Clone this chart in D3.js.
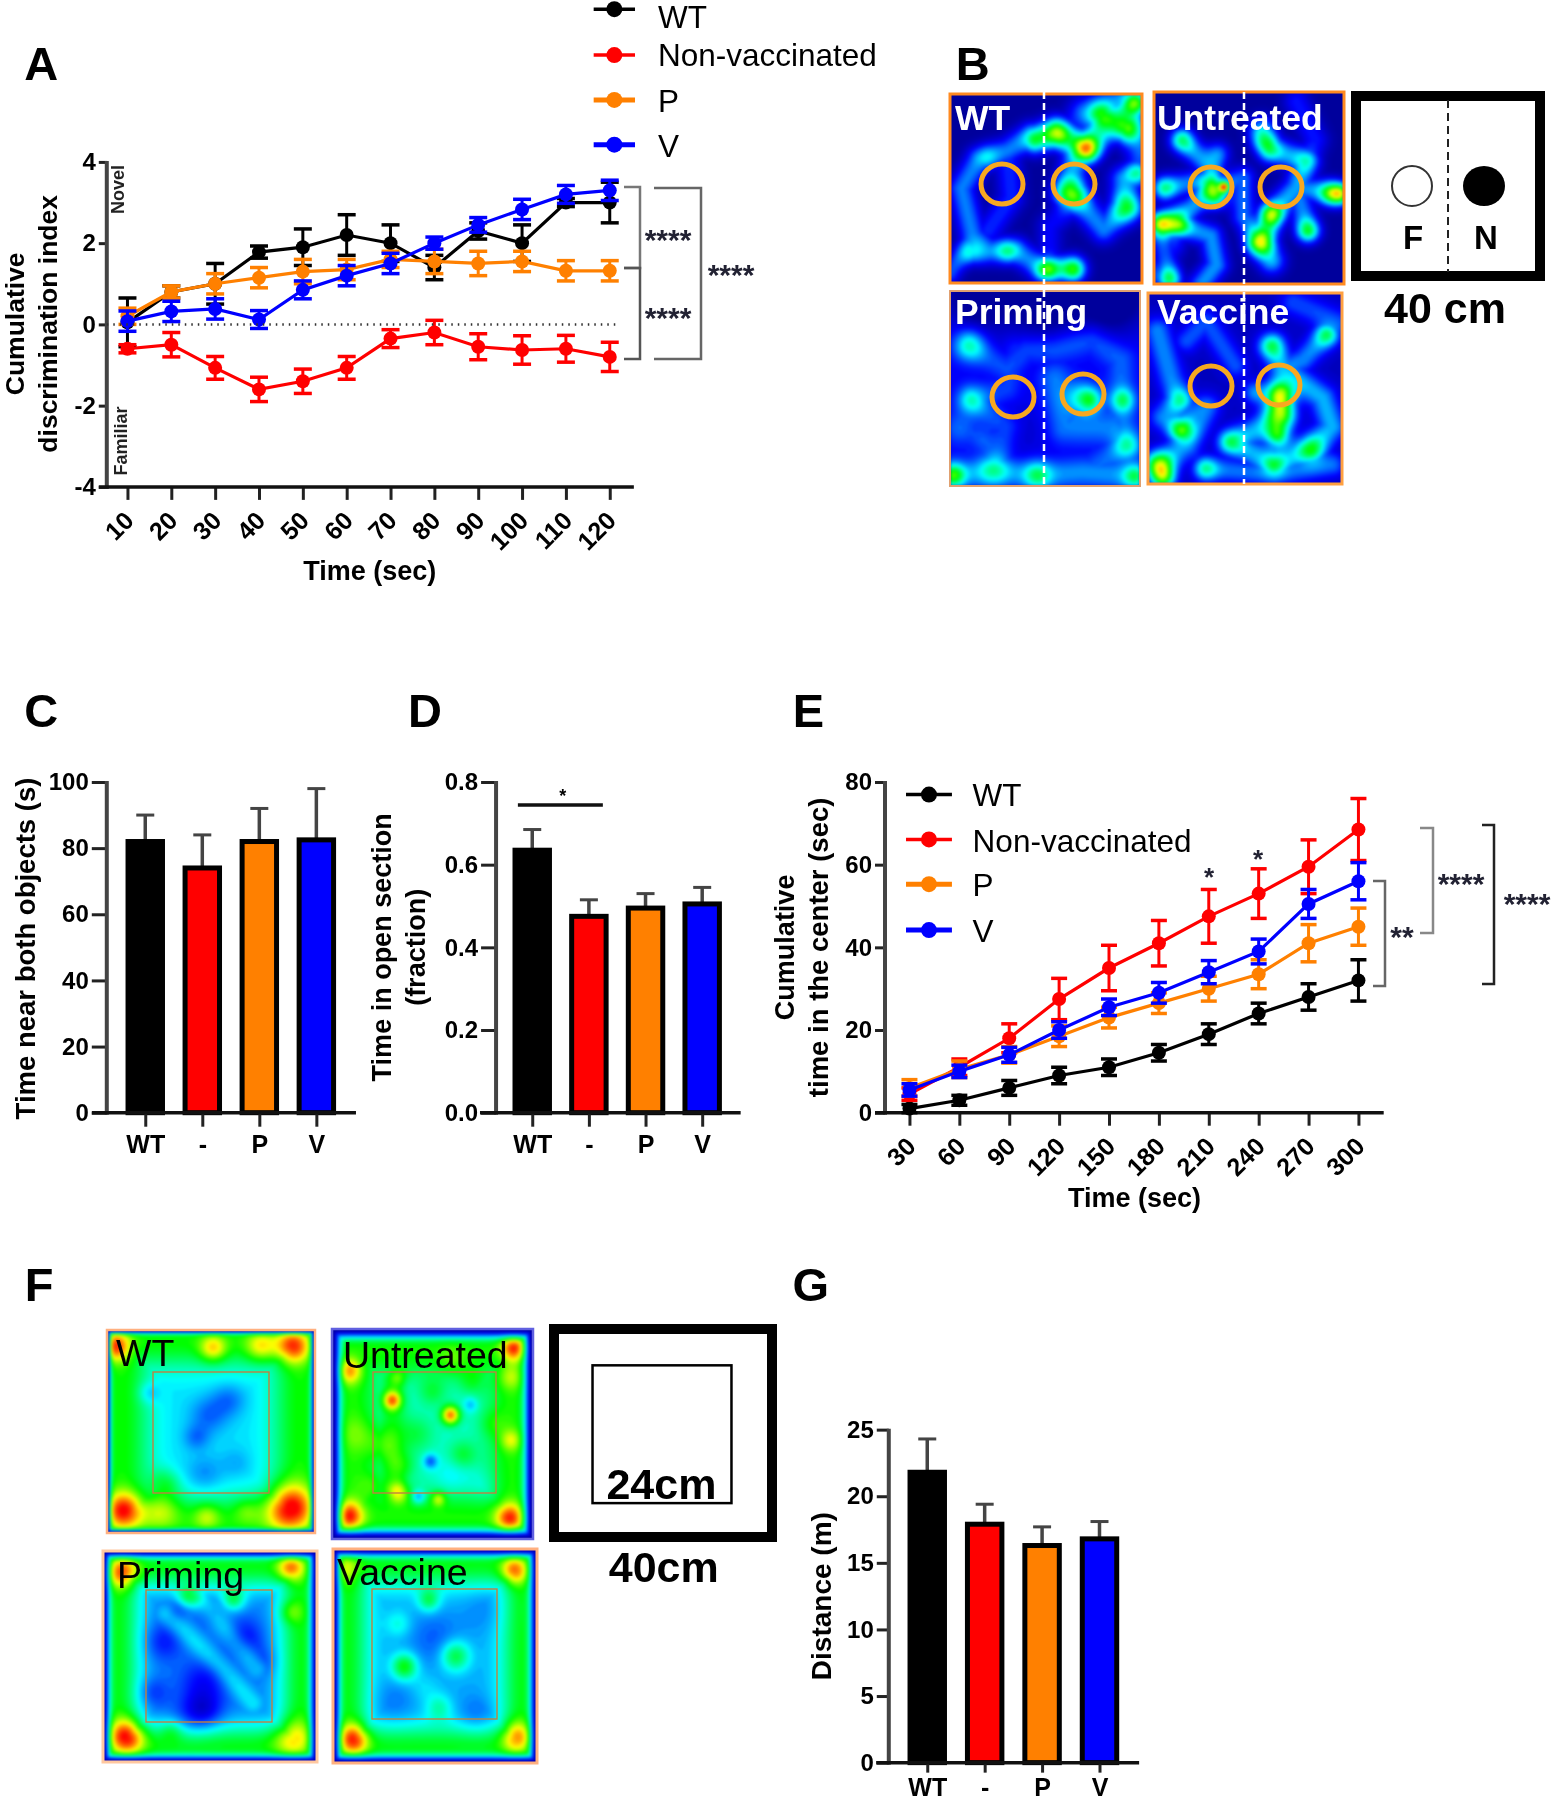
<!DOCTYPE html>
<html><head><meta charset="utf-8">
<style>html,body{margin:0;padding:0;background:#fff}svg{display:block;filter:blur(.7px)}text{font-family:"Liberation Sans",Arial,sans-serif}.hm{filter:blur(1.6px)}</style>
<script src="https://cdn.jsdelivr.net/npm/d3@7"></script></head><body>
<script>
// ---------- data ----------
const groups = ["WT","Non-vaccinated","P","V"];
const groupColors = ["#000000","#ff0000","#ff8000","#0000ff"];
const groupLineW = [3.5,3.5,5,5];
const barLabels = ["WT","-","P","V"];

const timeA = [10,20,30,40,50,60,70,80,90,100,110,120];
const aWT  = [0.05,0.8,1.0,1.78,1.9,2.2,2.0,1.4,2.3,2.0,3.0,3.0];
const aWTe = [0.6,0.15,0.5,0.15,0.45,0.5,0.45,0.3,0.2,0.45,0.1,0.5];
const aNon = [-0.6,-0.5,-1.07,-1.6,-1.4,-1.07,-0.35,-0.2,-0.55,-0.63,-0.6,-0.8];
const aNone= [0.1,0.3,0.28,0.3,0.3,0.28,0.22,0.3,0.32,0.35,0.33,0.36];
const aP   = [0.2,0.8,1.0,1.15,1.3,1.35,1.6,1.55,1.5,1.55,1.32,1.32];
const aPe  = [0.2,0.15,0.25,0.25,0.3,0.25,0.2,0.3,0.3,0.25,0.25,0.25];
const aV   = [0.08,0.32,0.38,0.12,0.85,1.2,1.5,2.0,2.45,2.83,3.2,3.3];
const aVe  = [0.25,0.25,0.25,0.22,0.22,0.25,0.25,0.15,0.18,0.25,0.22,0.25];

const timeE = [30,60,90,120,150,180,210,240,270,300];
const eWT  = [1,3,6,9,11,14.5,19,24,28,32];
const eWTe = [1,1.2,1.8,2,2,2,2.5,2.5,3.2,5];
const eNon = [4.5,11,18,27.5,35,41,47.5,53,59.5,68.5];
const eNone= [1.5,2,3.5,5,5.5,5.5,6.5,6,6.5,7.5];
const eP   = [6,10.5,14,18.5,23,26.5,30,33.5,41,45];
const ePe  = [2,2,2,2.5,2.5,2.5,3,3.5,4.5,4.5];
const eV   = [5.5,10,14,20,25.5,29,34,39,50.5,56];
const eVe  = [1.5,1.5,1.8,2,2,2.5,2.8,3,3.5,4.5];

const cVal = [82,74,82,82.5], cTop = [90,84,92,98];
const dVal = [0.635,0.475,0.495,0.505], dTop = [0.685,0.515,0.53,0.545];
const gVal = [21.8,17.9,16.3,16.8], gTop = [24.3,19.4,17.7,18.1];

// heat maps: spots [u,v,amp,sigma], trails [amp,sigma,[[u,v]...]]
const bWTspots = [[.71,.29,.62,.035],[.56,.21,.42,.035],[.79,.115,.4,.035],[.92,.185,.42,.035],[.96,.05,.35,.03],[.44,.24,.22,.03],[.64,.525,.42,.04],[.92,.6,.3,.04],[.97,.42,.2,.03],[.51,.93,.4,.03],[.64,.93,.35,.03],[.115,.845,.24,.03],[.30,.83,.22,.03],[.19,.33,.12,.03]];
const bWTtrails = [[.24,.05,[[.42,.22],[.3,.3],[.15,.35],[.06,.5],[.12,.75],[.2,.83],[.35,.83],[.47,.92],[.64,.92]]],[.3,.055,[[.44,.24],[.55,.2],[.7,.28],[.85,.15],[.96,.05]]],[.24,.05,[[.55,.2],[.66,.3],[.6,.52],[.7,.6],[.8,.72],[.92,.6],[.9,.45],[.97,.42]]],[.2,.04,[[.12,.75],[0,.95]]],[.16,.05,[[.3,.3],[.32,.55],[.2,.72]]],[.22,.06,[[.7,.1],[.9,.02],[1,.3]]],[.12,.05,[[.51,.93],[.52,.7],[.6,.62]]]];
const bUspots = [[.15,.255,.22,.03],[.34,.32,.22,.03],[.3,.49,.28,.03],[.37,.495,.65,.012],[.33,.55,.35,.03],[.04,.69,.5,.03],[.13,.69,.38,.03],[.06,.5,.22,.03],[.62,.64,.45,.03],[.56,.78,.5,.035],[.81,.72,.3,.03],[.93,.53,.35,.03],[.98,.53,.35,.025],[.57,.25,.18,.03],[.61,.3,.18,.03],[.8,.36,.14,.03],[.08,.97,.3,.03]];
const bUtrails = [[.26,.045,[[.15,.25],[.3,.4],[.3,.5],[.2,.6],[.04,.69],[.13,.69],[.3,.75],[.33,.9],[.25,1]]],[.24,.045,[[.06,.5],[.3,.45]]],[.28,.05,[[.57,.2],[.62,.3],[.8,.36],[.75,.5],[.62,.64],[.56,.78],[.62,.88]]],[.24,.045,[[.75,.5],[.81,.72]]],[.26,.045,[[.75,.5],[.98,.53]]],[.22,.045,[[.57,.78],[.47,.65],[.47,.45],[.3,.5]]],[.2,.045,[[.04,.75],[.08,.97]]],[.14,.05,[[.75,.05],[.85,.25],[.8,.36]]],[.14,.05,[[.1,.8],[.0,.95]]]];
const bPspots = [[.105,.28,.22,.04],[.115,.56,.2,.035],[.69,.545,.2,.04],[.74,.56,.28,.03],[.91,.56,.28,.03],[.93,.79,.22,.035],[.02,.945,.35,.03],[.23,.92,.2,.04],[.46,.945,.25,.035],[.97,.95,.25,.03],[.05,.705,.1,.04],[.17,.76,.08,.03],[.5,.03,-.2,.09],[.15,.02,-.2,.08],[.85,.03,-.2,.09],[.37,.72,-.05,.08],[.3,.3,-.03,.1]];
const bPtrails = [[.1,.05,[[.55,.3],[.75,.25],[.9,.35],[.9,.56],[.93,.79],[.7,.95]]],[.1,.05,[[.1,.28],[.3,.4],[.4,.3],[.55,.3]]],[.14,.05,[[.02,.945],[.23,.92],[.46,.945],[.7,.93],[.97,.95]]],[.1,.05,[[.115,.56],[.3,.7],[.23,.92]]],[.12,.06,[[.55,.45],[.6,.7],[.85,.7]]],[.08,.05,[[.35,.3],[.3,.5],[.115,.56]]]];
const bVspots = [[.68,.53,.62,.035],[.68,.64,.35,.04],[.67,.75,.4,.03],[.175,.72,.38,.03],[.06,.9,.42,.035],[.08,.97,.42,.03],[.92,.22,.25,.03],[.64,.28,.22,.03],[.84,.82,.28,.035],[.165,.56,.2,.03],[.43,.78,.22,.03],[.3,.92,.22,.03],[.65,.9,.24,.03],[.55,.52,.2,.03]];
const bVtrails = [[.2,.05,[[.05,.2],[.12,.45],[.165,.56],[.08,.65],[.175,.72],[.3,.6],[.2,.8],[.06,.9]]],[.24,.05,[[.64,.28],[.7,.4],[.9,.55],[.95,.7],[.84,.82],[.65,.9],[.43,.78],[.6,.7],[.68,.64]]],[.2,.045,[[.92,.22],[.8,.35],[.7,.4]]],[.18,.045,[[.3,.92],[.65,.95],[.95,.9]]],[.15,.045,[[.2,.25],[.3,.15],[.45,.38]]],[.14,.05,[[.75,.05],[.98,.15]]]];

const fWTspots = [[.08,.89,.46,.05],[.88,.877,.5,.062],[.04,.08,.42,.04],[.895,.08,.42,.045],[.74,.08,.22,.04],[.51,.09,.26,.035],[.48,.92,.16,.035],[.67,.89,.1,.035],[.26,.885,.18,.05],[.28,.75,.14,.04],[.585,.345,-.1,.045],[.49,.42,-.11,.05],[.43,.53,-.1,.035],[.47,.71,-.08,.05],[.62,.655,-.05,.04],[.2,.31,-.1,.03]];
const fWTtrails = [[.23,.1,[[.07,.05],[.93,.05],[.93,.95],[.07,.95],[.07,.05]]]];
const fUspots = [[.085,.89,.44,.04],[.885,.9,.42,.04],[.905,.09,.42,.035],[.085,.2,.3,.035],[.3,.34,.42,.025],[.59,.41,.5,.025],[.33,.78,.28,.03],[.53,.81,.22,.02],[.89,.53,.18,.03],[.33,.23,.14,.025],[.89,.23,.14,.035],[.49,.63,-.2,.02],[.43,.8,-.2,.02],[.69,.36,-.12,.02],[.6,.7,-.06,.05],[.5,.3,.1,.04],[.7,.25,.1,.04],[.42,.5,.1,.05],[.65,.6,.12,.04],[.25,.55,.12,.05],[.8,.45,.08,.04],[.6,.15,.08,.04],[.35,.65,.1,.04],[.2,.75,.1,.04],[.12,.5,.08,.05],[.75,.75,-.04,.05]];
const fUtrails = [[.17,.09,[[.1,.1],[.9,.1],[.9,.9],[.1,.9],[.1,.1]]],[.12,.05,[[.3,.25],[.3,.75]]]];
const fPspots = [[.11,.88,.5,.045],[.89,.89,.26,.05],[.88,.08,.36,.035],[.09,.1,.4,.04],[.40,.22,.22,.03],[.61,.23,.22,.03],[.88,.29,.14,.03],[.28,.43,-.1,.05],[.66,.41,-.11,.05],[.47,.62,-.11,.06],[.47,.76,-.14,.05],[.23,.67,-.09,.04],[.35,.28,-.08,.03],[.5,.3,-.05,.04],[.75,.52,-.06,.04],[.32,.85,.1,.03],[.4,.8,-.06,.06]];
const fPtrails = [[.3,.08,[[.07,.07],[.93,.07],[.93,.93],[.07,.93],[.07,.07]]],[.1,.035,[[.3,.3],[.55,.55],[.7,.72]]],[.1,.035,[[.45,.22],[.72,.55]]]];
const fVspots = [[.10,.89,.46,.04],[.9,.88,.34,.04],[.89,.1,.38,.035],[.06,.09,.2,.04],[.47,.24,.2,.03],[.35,.55,.28,.035],[.60,.50,.24,.04],[.52,.74,.13,.035],[.32,.35,.1,.035],[.5,.42,-.07,.07],[.3,.72,-.05,.06],[.7,.78,-.07,.05],[.75,.28,-.04,.06],[.45,.65,.05,.04]];
const fVtrails = [[.26,.08,[[.07,.07],[.93,.07],[.93,.93],[.07,.93],[.07,.07]]]];

// ---------- helpers ----------
const S = v => v * 1.1483;                // layout guide: reference proportions
const svg = d3.select("body").append("svg").attr("width",1556).attr("height",1800).attr("viewBox","0 0 1556 1800");
const FW = "bold";
const txt = (x,y,s,size,opts={}) => {
  const t = svg.append("text").attr("x",x).attr("y",y).text(s).attr("font-size",size)
    .attr("font-weight",opts.w||FW).attr("fill",opts.c||"#000").attr("text-anchor",opts.a||"middle")
    .attr("dominant-baseline",opts.b||"central");
  if(opts.r!==undefined) t.attr("transform",`rotate(${opts.r} ${x} ${y})`);
  return t;
};
function styleAxis(g,sw,lab){
  g.select(".domain").remove();
  g.selectAll(".tick line").attr("stroke","#222").attr("stroke-width",sw);
  g.selectAll(".tick text").attr("font-size",lab).attr("font-weight",FW).attr("fill","#000")
   .attr("font-family",'"Liberation Sans",Arial,sans-serif');
}
function yAxis(y,x0,ticks,fmt,tl){
  const g = svg.append("g").attr("transform",`translate(${x0},0)`)
    .call(d3.axisLeft(y).tickValues(ticks).tickFormat(fmt).tickSize(tl).tickPadding(3));
  styleAxis(g,3,24);
  svg.append("line").attr("x1",x0).attr("x2",x0).attr("y1",y.range()[1]-1).attr("y2",y.range()[0]+2).attr("stroke","#444").attr("stroke-width",4);
}
function xLine(xa,xb,y){svg.append("line").attr("x1",xa).attr("x2",xb).attr("y1",y).attr("y2",y).attr("stroke","#111").attr("stroke-width",3.5);}
function bars(vals,tops,y,c1,c2,yAxisX,xa,xb,ticks,fmt,tl,xtl,xpad){
  const x = d3.scalePoint().domain(barLabels).range([S(c1),S(c2)]);
  const bw = S(30);
  yAxis(y,yAxisX,ticks,fmt,tl);
  const g0 = svg.append("g");
  barLabels.forEach((c,i)=>{
    g0.append("line").attr("x1",x(c)).attr("x2",x(c)).attr("y1",y(vals[i])).attr("y2",y(tops[i])).attr("stroke","#444").attr("stroke-width",3.5);
    g0.append("line").attr("x1",x(c)-9).attr("x2",x(c)+9).attr("y1",y(tops[i])).attr("y2",y(tops[i])).attr("stroke","#444").attr("stroke-width",3);
    g0.append("rect").attr("x",x(c)-bw/2).attr("width",bw).attr("y",y(vals[i])).attr("height",y(0)-y(vals[i]))
      .attr("fill",groupColors[i]).attr("stroke","#000").attr("stroke-width",5);
  });
  const ax = svg.append("g").attr("transform",`translate(0,${y(0)})`)
    .call(d3.axisBottom(x).tickSize(xtl).tickPadding(xpad));
  styleAxis(ax,3,25);
  xLine(xa,xb,y(0));
}
function lineChart(xs,series,errs,y,x0,x1,ax,axEnd,yTicks,tl,capW){
  const x = d3.scalePoint().domain(xs).range([x0,x1]);
  const axG = svg.append("g").attr("transform",`translate(0,${y(y.domain()[0])})`)
    .call(d3.axisBottom(x).tickSize(13).tickFormat(String));
  styleAxis(axG,3,25);
  axG.selectAll(".tick text").attr("text-anchor","end").attr("dy",0).attr("dx",0)
    .attr("transform","translate(-4,24) rotate(-45)");
  yAxis(y,ax,yTicks,String,tl);
  xLine(ax-tl,axEnd,y(y.domain()[0]));
  const line = d3.line().x((d,i)=>x(xs[i])).y(d=>y(d));
  series.forEach((s,k)=>{
    const c = groupColors[k], g = svg.append("g");
    g.append("path").attr("d",line(s)).attr("fill","none").attr("stroke",c).attr("stroke-width",3.2);
    s.forEach((v,i)=>{
      const px=x(xs[i]), e=errs[k][i];
      g.append("line").attr("x1",px).attr("x2",px).attr("y1",y(v-e)).attr("y2",y(v+e)).attr("stroke",c).attr("stroke-width",3);
      [v-e,v+e].forEach(w=>g.append("line").attr("x1",px-capW).attr("x2",px+capW).attr("y1",y(w)).attr("y2",y(w)).attr("stroke",c).attr("stroke-width",3.5));
      g.append("circle").attr("cx",px).attr("cy",y(v)).attr("r",7).attr("fill",c);
    });
  });
}
function legend(x1,x2,tx,ys,tys,size){
  groups.forEach((g,i)=>{
    svg.append("line").attr("x1",x1).attr("x2",x2).attr("y1",ys[i]).attr("y2",ys[i]).attr("stroke",groupColors[i]).attr("stroke-width",groupLineW[i]);
    svg.append("circle").attr("cx",(x1+x2)/2).attr("cy",ys[i]).attr("r",8).attr("fill",groupColors[i]);
    txt(tx,tys[i],g,size,{w:"normal",a:"start"});
  });
}
function bracket(xa,xb,y1,y2,c,sw=2.5){
  svg.append("path").attr("d",d3.line()([[xa,y1],[xb,y1],[xb,y2],[xa,y2]])).attr("fill","none").attr("stroke",c).attr("stroke-width",sw);
}
const stars = (x,y,s) => txt(x,y+1,s,30,{c:"#223"});
const jet = d3.scaleLinear().domain([0,.12,.35,.55,.75,1]).range(["#00009c","#0000ff","#00ffff","#00ff00","#ffff00","#ff0000"]).clamp(true);
let clipN=0;
function heat(px,py,pw,ph,base,spots,trails,edge,edgeW,sk,fall){
  const n=110,m=110,vals=new Float64Array(n*m);
  const segD=(u,v,a,b)=>{const dx=b[0]-a[0],dy=b[1]-a[1],l=dx*dx+dy*dy||1e-9;
    const t=Math.max(0,Math.min(1,((u-a[0])*dx+(v-a[1])*dy)/l));return Math.hypot(u-a[0]-t*dx,v-a[1]-t*dy);};
  for(let j=0;j<m;j++)for(let i=0;i<n;i++){
    const u=(i+.5)/n,v=(j+.5)/m;let f=base,tr=0;
    for(const [su,sv,a,s] of spots){const ss=s*sk,d2=(u-su)**2+(v-sv)**2;f+=a*Math.exp(-d2/(2*ss*ss));}
    for(const [a,s,pts] of trails){let d=1e9;for(let k=1;k<pts.length;k++)d=Math.min(d,segD(u,v,pts[k-1],pts[k]));tr=Math.max(tr,a*Math.exp(-d*d/(2*s*s)));}
    let val=f+tr;
    if(fall){const e=Math.min(u,v,1-u,1-v);val*=1-Math.exp(-(e*e)/(2*fall*fall));}
    vals[j*n+i]=val;
  }
  const id="c"+(clipN++);
  svg.append("clipPath").attr("id",id).append("rect").attr("x",px).attr("y",py).attr("width",pw).attr("height",ph);
  const g=svg.append("g").attr("clip-path",`url(#${id})`).append("g").attr("class","hm");
  g.append("rect").attr("x",px-5).attr("y",py-5).attr("width",pw+10).attr("height",ph+10).attr("fill",jet(0));
  const th=d3.range(.01,1.1,.015);
  const path=d3.geoPath(d3.geoTransform({point(x,y){this.stream.point(px+x*pw/n,py+y*ph/m);}}));
  g.selectAll("path").data(d3.contours().size([n,m]).thresholds(th)(vals)).join("path").attr("d",path).attr("fill",d=>jet(d.value));
  svg.append("rect").attr("x",px).attr("y",py).attr("width",pw).attr("height",ph).attr("fill","none").attr("stroke",edge).attr("stroke-width",edgeW);
}

// ---------- panel letters ----------
[["A",36,55],["B",847,55],["C",36,619],["D",370,619],["E",704,619],["F",34,1119],["G",706,1119]]
  .forEach(([s,x,y])=>txt(S(x),S(y),s,47));

// ---------- panel A ----------
const yA = d3.scaleLinear().domain([-4,4]).range([S(424),S(141)]);
lineChart(timeA,[aWT,aNon,aP,aV],[aWTe,aNone,aPe,aVe],yA,S(111),S(531),S(93),S(552),[-4,-2,0,2,4],8,9);
svg.append("line").attr("x1",S(93)).attr("x2",S(540)).attr("y1",yA(0)).attr("y2",yA(0)).attr("stroke","#333").attr("stroke-width",2.5).attr("stroke-dasharray","1.5 5");
legend(S(517),S(553),S(573),[8,48,87,126].map(S),[15,48,88,127].map(S),31.5);
txt(S(13),S(282),"Cumulative",26.5,{r:-90});
txt(S(42),S(282),"discrimination index",26.5,{r:-90});
txt(S(322),S(497),"Time (sec)",27);
txt(S(103),S(165),"Novel",18,{r:-90,c:"#222"});
txt(S(105),S(384),"Familiar",18,{r:-90,c:"#222"});
bracket(624,640,187,268,"#777");
bracket(624,640,268,359,"#555");
bracket(654,701,188,359,"#666");
stars(668,238,"****");
stars(668,316,"****");
stars(731,273,"****");

// ---------- panel B ----------
heat(950,94,192,189,0,bWTspots,bWTtrails,"#ff8a20",3,1.4);
heat(1154,92,190,192,0,bUspots,bUtrails,"#ff8a20",3,1.4);
heat(950,291,190,195,.12,bPspots,bPtrails,"#e0a070",2,1.4);
heat(1148,293,194,191,.05,bVspots,bVtrails,"#ffa040",3,1.4);
[[1044,92,284],[1244,92,284],[1044,290,486],[1244,292,484]].forEach(([x,a,b])=>
  svg.append("line").attr("x1",x).attr("x2",x).attr("y1",a).attr("y2",b).attr("stroke","#fff").attr("stroke-width",2.5).attr("stroke-dasharray","7 4"));
[[1002,184],[1074,184],[1211,187],[1281,187],[1013,397],[1083,394],[1211,386],[1279,385]].forEach(([x,y])=>
  svg.append("ellipse").attr("cx",x).attr("cy",y).attr("rx",21).attr("ry",20).attr("fill","none").attr("stroke","#f7a820").attr("stroke-width",5));
[["WT",955,S(103)],["Untreated",1157,S(103)],["Priming",955,S(272)],["Vaccine",1157,S(272)]].forEach(([s,x,y])=>txt(x,y,s,35.5,{c:"#fff",a:"start"}));
svg.append("rect").attr("x",1356).attr("y",96).attr("width",184).attr("height",180).attr("fill","#fff").attr("stroke","#000").attr("stroke-width",10);
svg.append("line").attr("x1",1448).attr("x2",1448).attr("y1",100).attr("y2",272).attr("stroke","#222").attr("stroke-width",2).attr("stroke-dasharray","8 5");
svg.append("ellipse").attr("cx",1412).attr("cy",186).attr("rx",20).attr("ry",20).attr("fill","#fff").attr("stroke","#333").attr("stroke-width",2);
svg.append("ellipse").attr("cx",1484).attr("cy",186).attr("rx",21).attr("ry",20).attr("fill","#000");
txt(1413,237,"F",33);txt(1486,237,"N",33);
txt(1445,308,"40 cm",43);

// ---------- panel C ----------
const yC = d3.scaleLinear().domain([0,100]).range([S(969),S(681)]);
bars(cVal,cTop,yC,126.5,275.5,S(93),S(80),S(310),[0,20,40,60,80,100],String,15,14,9);
txt(S(22),S(826),"Time near both objects (s)",27.5,{r:-90});

// ---------- panel D ----------
const yD = d3.scaleLinear().domain([0,.8]).range([S(969),S(681)]);
bars(dVal,dTop,yD,463.5,611.5,S(432),S(418),S(645),[0,.2,.4,.6,.8],d3.format(".1f"),15,14,9);
txt(S(333),S(825),"Time in open section",27,{r:-90});
txt(S(362),S(825),"(fraction)",27,{r:-90});
xLine(S(451),S(525),S(701));
txt(S(490),S(693),"*",18);

// ---------- panel E ----------
const yE = d3.scaleLinear().domain([0,80]).range([S(969),S(681)]);
lineChart(timeE,[eWT,eNon,eP,eV],[eWTe,eNone,ePe,eVe],yE,S(792),S(1183),885,S(1205),[0,20,40,60,80],10,8);
legend(S(789),S(829),S(847),[692,731,770,810].map(S),[692,732,771,811].map(S),31.5);
txt(S(684),S(825),"Cumulative",27,{r:-90});
txt(S(713),S(825),"time in the center (sec)",27.5,{r:-90});
txt(S(988),S(1043),"Time (sec)",27);
bracket(1373,1385,881,986,"#666");
bracket(1420,1433,828,933,"#888");
bracket(1482,1494,825,984,"#222");
stars(1402,935,"**");
stars(1461,882,"****");
stars(1527,902,"****");
txt(1209,877,"*",26,{c:"#223"});
txt(1258,859,"*",26,{c:"#223"});

// ---------- panel F ----------
heat(107,1330,208,203,.33,fWTspots,fWTtrails,"#ffb080",2.5,1.25,.012);
heat(332,1329,201,210,.40,fUspots,fUtrails,"#6060e0",2.5,1.2,.028);
heat(103,1551,214,211,.24,fPspots,fPtrails,"#ffc8a0",3,1.25,.02);
heat(333,1549,204,214,.28,fVspots,fVtrails,"#ffb080",3,1.25,.022);
[[153,1372,269,1493],[373,1372,496,1493],[146,1590,272,1722],[372,1589,497,1719]].forEach(([a,b,c,d])=>
  svg.append("rect").attr("x",a).attr("y",b).attr("width",c-a).attr("height",d-b).attr("fill","none").attr("stroke","#c08040").attr("stroke-width",1.4));
[["WT",116,S(1178)],["Untreated",343,S(1180)],["Priming",117,S(1372)],["Vaccine",337,S(1369)]].forEach(([s,x,y])=>txt(x,y,s,37.5,{a:"start",w:"normal"}));
svg.append("rect").attr("x",554).attr("y",1329).attr("width",218).attr("height",208).attr("fill","#fff").attr("stroke","#000").attr("stroke-width",10);
svg.append("rect").attr("x",S(516)).attr("y",S(1189)).attr("width",S(121)).attr("height",S(120)).attr("fill","none").attr("stroke","#000").attr("stroke-width",2.5);
txt(S(576),S(1292),"24cm",43);
txt(S(578),S(1365),"40cm",43);

// ---------- panel G ----------
const yG = d3.scaleLinear().domain([0,25]).range([S(1535),S(1245)]);
bars(gVal,gTop,yG,807.5,957.5,S(774),S(763),S(992),[0,5,10,15,20,25],String,12,10,6);
txt(S(715),S(1390),"Distance (m)",28,{r:-90});
</script></body></html>
